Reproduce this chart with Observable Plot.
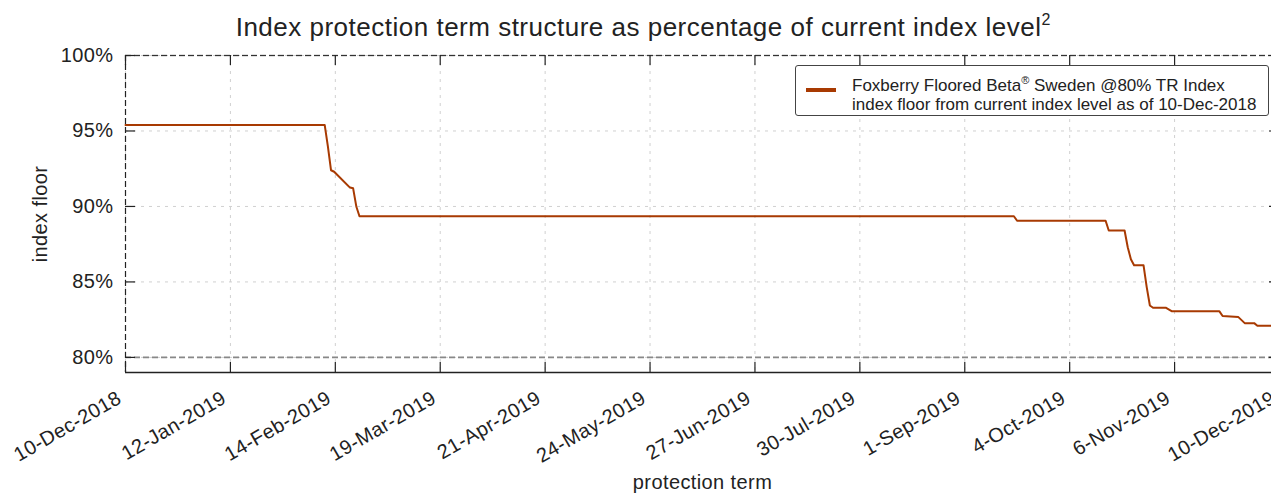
<!DOCTYPE html>
<html>
<head>
<meta charset="utf-8">
<script src="https://cdn.jsdelivr.net/npm/d3@7"></script>
<script src="https://cdn.jsdelivr.net/npm/@observablehq/plot@0.6"></script>
<style>
  html, body { margin: 0; padding: 0; background: #fff; overflow: hidden; width: 1271px; height: 494px; }
  #wrap { position: relative; width: 1290px; height: 494px; font-family: "Liberation Sans", Arial, sans-serif; }
  #title { position: absolute; left: 0; width: 1286px; top: 12px; text-align: center; font-size: 26px; letter-spacing: 0.5px; color: #222; white-space: nowrap; }
  #title sup { font-size: 16px; position: relative; top: -1px; letter-spacing: 0; }
  #legend { position: absolute; left: 795px; top: 65px; width: 474px; height: 51px; box-sizing: border-box; border: 1px solid #444; border-radius: 3px; background: #fff; }
  #legend .swatch { position: absolute; left: 10px; top: 22px; width: 30px; height: 4px; background: #a83a02; }
  #legend .txt { position: absolute; left: 56px; top: 5px; font-size: 17px; line-height: 19px; color: #222; white-space: nowrap; }
  #legend sup { font-size: 11px; }
  svg text { letter-spacing: 0.4px; }
</style>
</head>
<body>
<div id="wrap">
  <div id="chart"></div>
  <div id="title">Index protection term structure as percentage of current index level<sup>2</sup></div>
  <div id="legend">
    <div class="swatch"></div>
    <div class="txt">Foxberry Floored Beta<sup>®</sup> Sweden @80% TR Index<br>index floor from current index level as of 10-Dec-2018</div>
  </div>
</div>
<script>
// Dates of the line vertices and index floor (%) values
const dates = [
  "2018-12-10", "2019-02-11", "2019-02-12", "2019-02-13", "2019-02-14", "2019-02-19", "2019-02-20",
  "2019-02-21", "2019-02-22", "2019-09-17", "2019-09-18", "2019-10-16", "2019-10-17", "2019-10-22",
  "2019-10-23", "2019-10-24", "2019-10-25", "2019-10-28", "2019-10-29", "2019-10-30", "2019-10-31",
  "2019-11-04", "2019-11-06", "2019-11-21", "2019-11-22", "2019-11-27", "2019-11-29", "2019-12-02",
  "2019-12-03", "2019-12-10"
];
const floors = [
  95.4, 95.4, 94.0, 92.4, 92.3, 91.25, 91.2,
  90.0, 89.35, 89.35, 89.05, 89.05, 88.41, 88.41,
  87.3, 86.5, 86.1, 86.1, 84.66, 83.44, 83.29,
  83.29, 83.05, 83.05, 82.74, 82.67, 82.27, 82.27,
  82.1, 82.1
];
// x-axis tick dates (evenly spaced over the year) and their labels
const tickDates = [
  "2018-12-10", "2019-01-12", "2019-02-14", "2019-03-19", "2019-04-21", "2019-05-24",
  "2019-06-27", "2019-07-30", "2019-09-01", "2019-10-04", "2019-11-06", "2019-12-10"
];
const tickLabels = [
  "10-Dec-2018", "12-Jan-2019", "14-Feb-2019", "19-Mar-2019", "21-Apr-2019", "24-May-2019",
  "27-Jun-2019", "30-Jul-2019", "1-Sep-2019", "4-Oct-2019", "6-Nov-2019", "10-Dec-2019"
];
const yTicks = [80, 85, 90, 95, 100];
const refLevels = [80, 100];

const parse = d3.utcParse("%Y-%m-%d");
const data = dates.map((d, i) => ({date: parse(d), floor: floors[i]}));
const xStart = parse(tickDates[0]);
const xEnd = parse(tickDates[tickDates.length - 1]);
// ticks evenly spaced across the domain (as in the original)
const xTicks = tickDates.map((d, i) => new Date(+xStart + (xEnd - xStart) * i / (tickDates.length - 1)));
const labelOf = new Map(xTicks.map((t, i) => [+t, tickLabels[i]]));

const chart = Plot.plot({
  width: 1290,
  height: 494,
  marginLeft: 125,
  marginRight: 11,
  marginTop: 55,
  marginBottom: 122,
  style: {fontFamily: "Liberation Sans, Arial, sans-serif", fontSize: "20px", color: "#333", background: "transparent"},
  x: {type: "utc", domain: [xStart, xEnd]},
  y: {domain: [79, 100]},
  marks: [
    Plot.gridX(xTicks, {stroke: "#d0d0d0", strokeOpacity: 1, strokeDasharray: "3,5"}),
    Plot.gridY(yTicks, {stroke: "#d0d0d0", strokeOpacity: 1, strokeDasharray: "3,5"}),
    Plot.ruleY(refLevels, {stroke: "#888", strokeWidth: 1.6, strokeDasharray: "6,3"}),
    Plot.ruleX([xStart], {stroke: "#222", strokeWidth: 1.2, strokeDasharray: "6,3"}),
    Plot.ruleY([79], {stroke: "#222", strokeWidth: 1.4}),
    Plot.ruleY([100], {stroke: "#333", strokeWidth: 1, strokeDasharray: "6,3"}),
    // inward ticks
    Plot.tickX(xTicks, {x: d => d, insetTop: 307, stroke: "#222", strokeWidth: 1.2}),
    Plot.tickX(xTicks, {x: d => d, insetBottom: 307, stroke: "#222", strokeWidth: 1.2}),
    Plot.tickY(yTicks, {y: d => d, insetRight: 1144, stroke: "#222", strokeWidth: 1.2}),
    Plot.tickY(yTicks, {y: d => d, insetLeft: 1144, stroke: "#222", strokeWidth: 1.2}),
    Plot.axisX(xTicks, {
      tickSize: 0, tickPadding: 24, tickRotate: -30, dx: -6,
      tickFormat: d => labelOf.get(+d),
      label: null, fontSize: 20, fill: "#222"
    }),
    Plot.axisX(xTicks, {
      tickSize: 0, tickFormat: () => "",
      label: "protection term", labelAnchor: "center", labelArrow: "none", labelOffset: 116,
      fontSize: 20, fill: "#222"
    }),
    Plot.axisY(yTicks, {
      tickSize: 0, tickPadding: 12,
      tickFormat: d => d + "%",
      label: "index floor", labelAnchor: "center", labelArrow: "none", labelOffset: 93,
      fontSize: 20, fill: "#222"
    }),
    Plot.line(data, {x: "date", y: "floor", stroke: "#a83a02", strokeWidth: 2, strokeLinejoin: "round"})
  ]
});
document.getElementById("chart").appendChild(chart);
</script>
</body>
</html>
